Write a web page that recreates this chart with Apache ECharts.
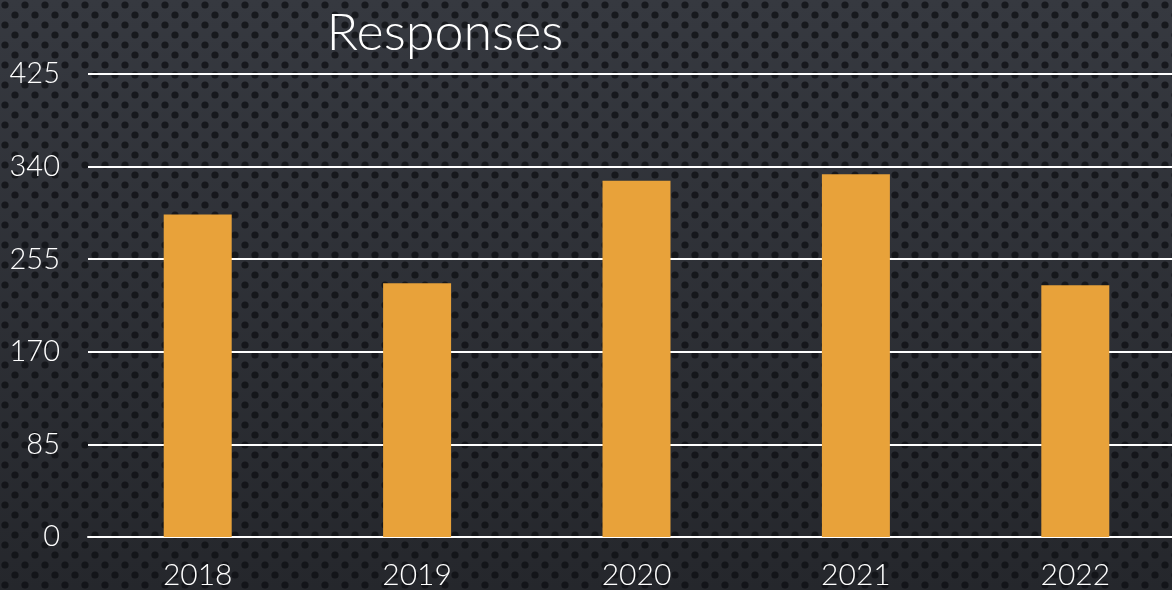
<!DOCTYPE html>
<html>
<head>
<meta charset="utf-8">
<script src="https://cdn.jsdelivr.net/npm/echarts@6/dist/echarts.min.js"></script>
<style>
  html, body { margin: 0; padding: 0; background: #2c2f35; overflow: hidden; }
  /* a little wider than the window: the original crops the last bar's slot */
  #chart { width: 1185px; height: 590px; }
</style>
</head>
<body>
<div id="chart"></div>
<script>
var years = ['2018', '2019', '2020', '2021', '2022'];
var responses = [296, 233, 327, 333, 231];
var yTicks = [0, 85, 170, 255, 340, 425];

// perforated dark backdrop, painted once into a canvas
function makeBackdrop() {
    var c = document.createElement('canvas');
    c.width = 1185;
    c.height = 590;
    var ctx = c.getContext('2d');
    var g = ctx.createLinearGradient(0, 0, 0, 590);
    g.addColorStop(0, '#363940');
    g.addColorStop(1, '#25272c');
    ctx.fillStyle = g;
    ctx.fillRect(0, 0, 1185, 590);
    ctx.fillStyle = 'rgba(14,15,19,0.75)';
    for (var row = 0; row * 10 < 600; row++) {
        var off = (row % 2) ? 10 : 0;
        for (var x = 5 + off; x < 1200; x += 20) {
            ctx.beginPath();
            ctx.arc(x, row * 10 + 5, 3.6, 0, Math.PI * 2);
            ctx.fill();
        }
    }
    return c;
}

var myChart = echarts.init(document.getElementById('chart'));
var option = {
    backgroundColor: { image: makeBackdrop(), repeat: 'no-repeat' },
    animation: false,
    title: {
        text: 'Responses',
        left: 440,
        textAlign: 'center',
        top: 2,
        textStyle: { color: '#ffffff', fontFamily: 'Lato', fontWeight: 300, fontSize: 52 }
    },
    grid: { left: 88, right: 0, top: 74, bottom: 53, containLabel: false },
    xAxis: {
        type: 'category',
        data: years,
        axisLine: { lineStyle: { color: '#ffffff', width: 2 } },
        axisTick: { show: false },
        axisLabel: { color: '#ffffff', fontFamily: 'Lato', fontWeight: 300, fontSize: 30, margin: 23 }
    },
    yAxis: {
        type: 'value',
        min: yTicks[0],
        max: yTicks[yTicks.length - 1],
        interval: 85,
        axisLine: { show: false },
        axisTick: { show: false },
        splitLine: { lineStyle: { color: '#ffffff', width: 2 } },
        axisLabel: { color: '#ffffff', fontFamily: 'Lato', fontWeight: 300, fontSize: 29, margin: 28 }
    },
    series: [{
        name: 'Responses',
        type: 'bar',
        data: responses,
        barWidth: 68,
        itemStyle: { color: '#e8a23a' }
    }]
};
myChart.setOption(option);
</script>
</body>
</html>
